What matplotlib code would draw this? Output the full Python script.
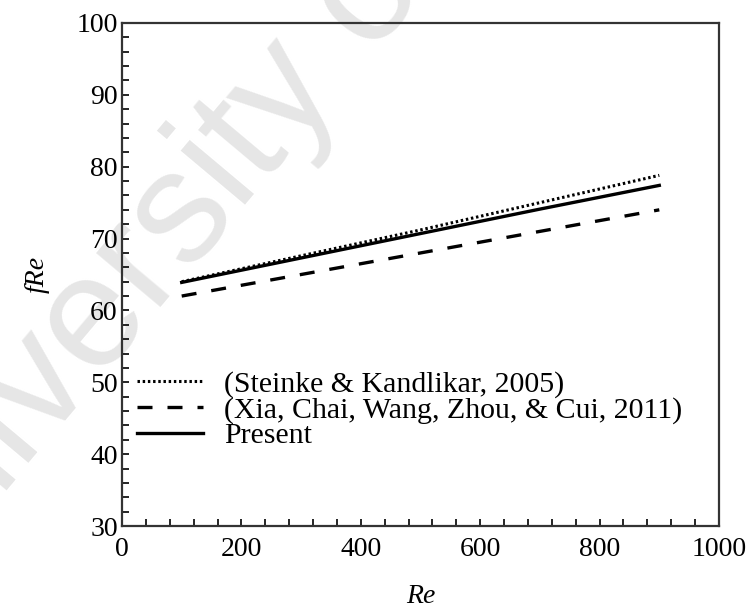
import matplotlib
matplotlib.use("Agg")
import matplotlib.pyplot as plt
from matplotlib.ticker import MultipleLocator

# Friction factor data, fRe versus Reynolds number
re_values = [100, 300, 500, 700, 900]
steinke = [64.0, 67.6, 71.2, 75.0, 78.8]
xia = [62.0, 65.0, 68.0, 71.0, 74.0]
present = [63.9, 67.3, 70.7, 74.1, 77.4]

labels = ["(Steinke & Kandlikar, 2005)",
          "(Xia, Chai, Wang, Zhou, & Cui, 2011)",
          "Present"]

plt.rcParams["font.family"] = ["Liberation Serif", "DejaVu Serif"]

fig = plt.figure(figsize=(7.52, 6.12), dpi=100)
ax = fig.add_axes([122 / 752, 1 - 526 / 612, (719 - 122) / 752, (526 - 23) / 612])
ax.patch.set_alpha(0)

fig.text(-108 / 752, 1 - 628 / 612, "University of Malaya", rotation=50,
         rotation_mode="anchor", ha="left", va="baseline", fontsize=115,
         color="#e6e6e6", family="Liberation Sans", zorder=-1)

ax.plot(re_values, steinke, color="black", lw=2.2, linestyle=(0, (0.8, 0.9)),
        label=labels[0])
ax.plot(re_values, xia, color="black", lw=2.4, linestyle=(0, (4.5, 4.5)),
        label=labels[1])
ax.plot(re_values, present, color="black", lw=2.4, linestyle="-", label=labels[2])

ax.set_xlim(0, 1000)
ax.set_ylim(30, 100)
ax.xaxis.set_major_locator(MultipleLocator(200))
ax.xaxis.set_minor_locator(MultipleLocator(40))
ax.yaxis.set_major_locator(MultipleLocator(10))
ax.yaxis.set_minor_locator(MultipleLocator(2))
ax.tick_params(which="both", direction="in", top=False, right=False,
               labelsize=20, width=1.2, length=5)
ax.tick_params(axis="y", pad=3)
ax.tick_params(axis="x", pad=8)

for sp in ax.spines.values():
    sp.set_linewidth(1.6)
    sp.set_color("#333333")

ax.set_xlabel("Re", fontsize=20, style="italic", labelpad=16)
ax.set_ylabel("fRe", fontsize=20, style="italic", labelpad=19)

ax.legend(loc="upper left", bbox_to_anchor=(0.0, 0.338), frameon=False,
          fontsize=21.5, handlelength=2.2, handletextpad=0.72, labelspacing=-0.05,
          borderaxespad=0.3, borderpad=0.2)

fig.savefig("out.png", dpi=100)
